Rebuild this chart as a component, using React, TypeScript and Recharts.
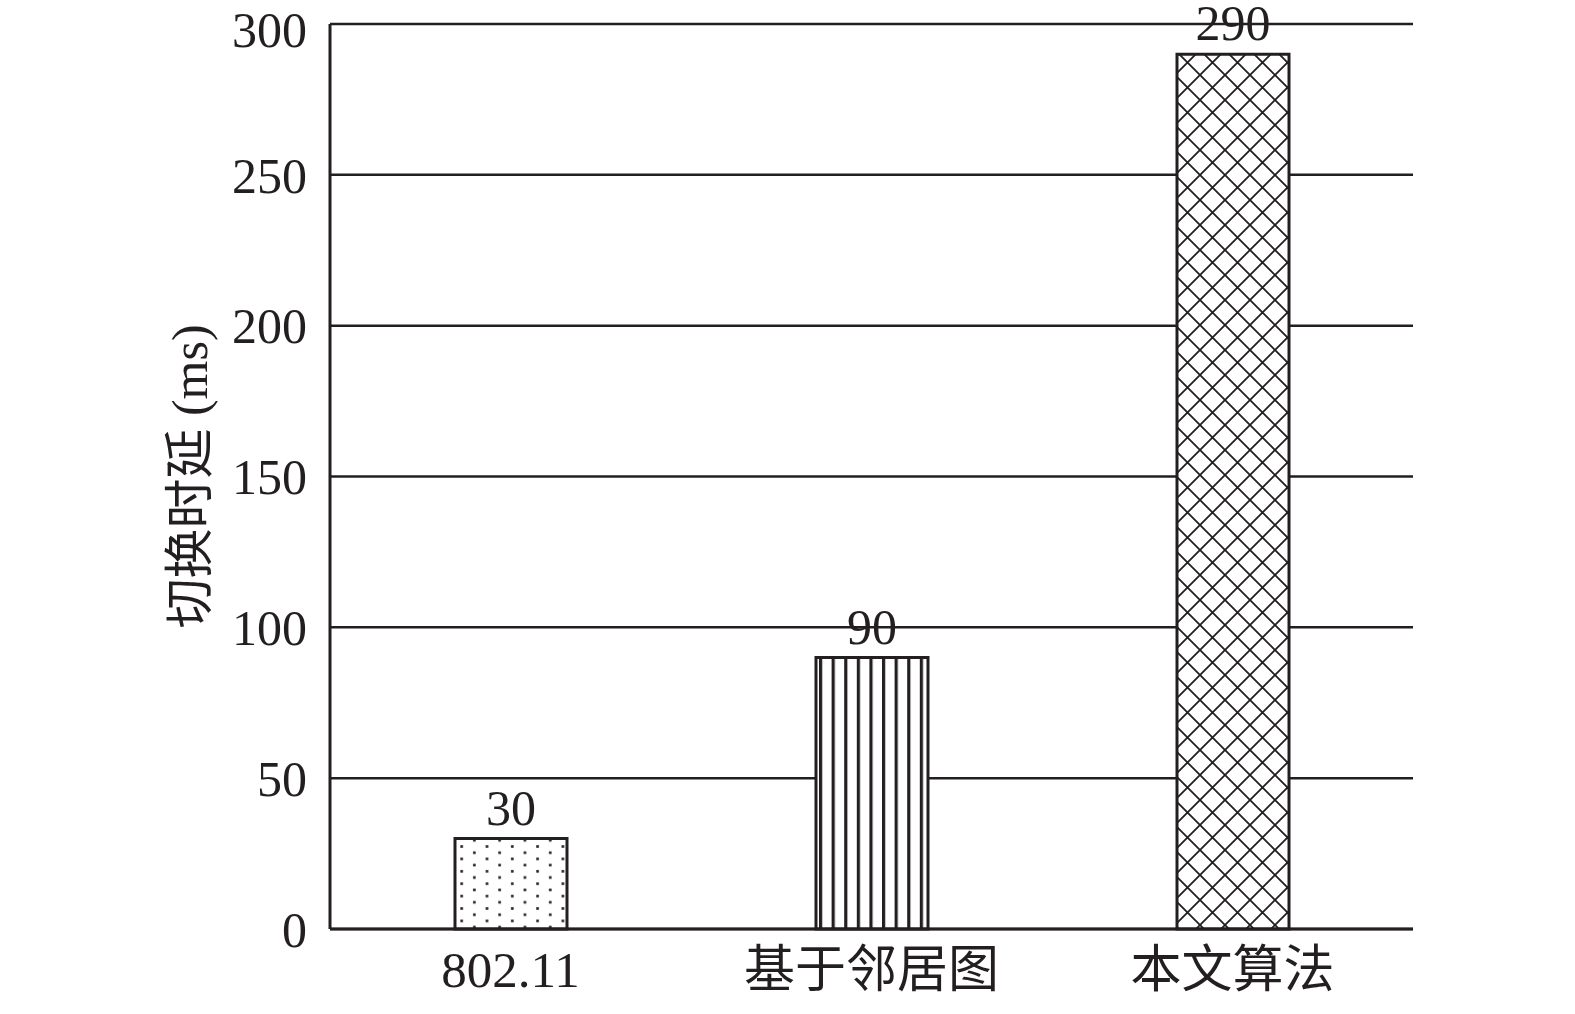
import { BarChart, Bar, XAxis, YAxis, CartesianGrid, Cell, LabelList } from "recharts";

const categories = ["802.11", "基于邻居图", "本文算法"];
const delays = [30, 90, 290];
const yTicks = [0, 50, 100, 150, 200, 250, 300];
const yLabel = "切换时延 (ms)";

const fills = ["url(#dots)", "url(#stripes)", "url(#cross)"];
const ink = "#231f20";
const font = "'Liberation Serif', 'Noto Sans CJK SC', serif";

const data = categories.map((name, i) => ({ name, value: delays[i] }));

const Patterns = () => (
  <svg width={0} height={0} style={{ position: "absolute" }}>
    <defs>
      <pattern id="dots" patternUnits="userSpaceOnUse" width={25.3} height={12.4}>
        <rect width={25.3} height={12.4} fill="#fff" />
        <rect x={5} y={2} width={2.6} height={2.6} fill={ink} />
        <rect x={17.65} y={8.2} width={2.6} height={2.6} fill={ink} />
      </pattern>
      <pattern id="stripes" patternUnits="userSpaceOnUse" width={12.6} height={20}>
        <rect width={12.6} height={20} fill="#fff" />
        <rect x={0} y={0} width={3.2} height={20} fill={ink} />
      </pattern>
      <pattern id="cross" patternUnits="userSpaceOnUse" width={25} height={25}>
        <rect width={25} height={25} fill="#fff" />
        <path d="M0,0 L25,25 M25,0 L0,25" stroke={ink} strokeWidth={1.8} />
      </pattern>
    </defs>
  </svg>
);

const YTitle = (props: any) => {
  const vb = props.viewBox || {};
  const cx = 190;
  const cy = (vb.y ?? 24) + (vb.height ?? 905) / 2;
  return (
    <text
      x={cx}
      y={cy}
      transform={`rotate(-90, ${cx}, ${cy})`}
      textAnchor="middle"
      dominantBaseline="central"
      fontFamily={font}
      fontSize={50}
      fill={ink}
    >
      {yLabel}
    </text>
  );
};

export default function App() {
  return (
    <div style={{ position: "absolute", left: 0, top: 0, background: "#fff" }}>
      <Patterns />
      <BarChart
        width={1575}
        height={1014}
        data={data}
        margin={{ top: 24, right: 162, bottom: 55, left: 0 }}
        barCategoryGap="0%"
      >
        <CartesianGrid vertical={false} stroke={ink} strokeWidth={2.5} strokeOpacity={1} />
        <XAxis
          dataKey="name"
          tickLine={false}
          tickMargin={16}
          axisLine={{ stroke: ink, strokeWidth: 3 }}
          tick={{ fill: ink, fontSize: 51, fontFamily: font }}
          interval={0}
        />
        <YAxis
          width={330}
          domain={[0, 300]}
          ticks={yTicks}
          tickLine={false}
          tickMargin={17}
          axisLine={{ stroke: ink, strokeWidth: 3 }}
          tick={{ fill: ink, fontSize: 50, fontFamily: font }}
          label={<YTitle />}
        />
        <Bar dataKey="value" barSize={112} stroke={ink} strokeWidth={3} isAnimationActive={false}>
          {data.map((d, i) => (
            <Cell key={d.name} fill={fills[i]} />
          ))}
          <LabelList
            dataKey="value"
            position="top"
            offset={14}
            fill={ink}
            fontSize={50}
            fontFamily={font}
          />
        </Bar>
      </BarChart>
    </div>
  );
}
